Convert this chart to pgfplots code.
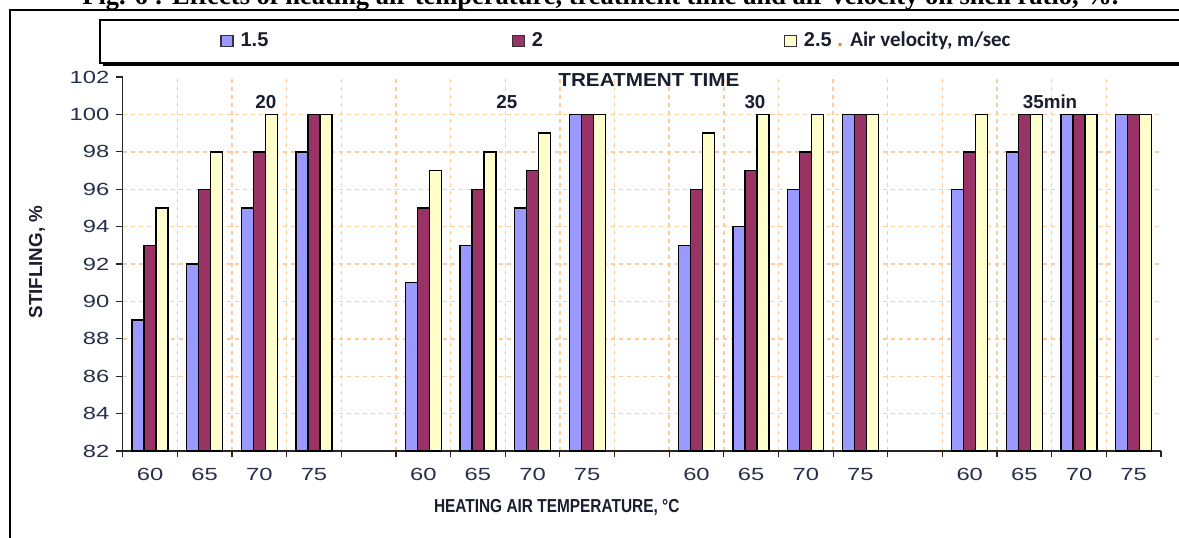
\documentclass[border=0pt]{standalone}
\usepackage{pgfplots}
\pgfplotsset{compat=1.18}
\usepackage{pgfplotstable}
\usepackage{graphicx}
\usepackage{fontspec}
\setmainfont{Liberation Sans}
\newfontfamily\titlefont{Liberation Serif}
\newfontfamily\calibri{Carlito}
\definecolor{cblue}{HTML}{9999FF}
\definecolor{cmaroon}{HTML}{993366}
\definecolor{cyellow}{HTML}{FFFFCC}
\definecolor{gridc}{HTML}{FFCC99}
\definecolor{tickc}{HTML}{26304A}
\definecolor{txtc}{HTML}{1A1F30}
\newcommand{\sx}[1]{\scalebox{1.35}[1]{#1}}

\pgfplotstableread{
x y
0 89
1 92
2 95
3 98
5 91
6 93
7 95
8 100
10 93
11 94
12 96
13 100
15 96
16 98
17 100
18 100
}\tblA
\pgfplotstableread{
x y
0 93
1 96
2 98
3 100
5 95
6 96
7 97
8 100
10 96
11 97
12 98
13 100
15 98
16 100
17 100
18 100
}\tblB
\pgfplotstableread{
x y
0 95
1 98
2 100
3 100
5 97
6 98
7 99
8 100
10 99
11 100
12 100
13 100
15 100
16 100
17 100
18 100
}\tblC

\begin{document}
\begin{tikzpicture}[x=0.5pt,y=0.5pt]
\useasboundingbox (0,0) rectangle (1179,537);
\clip (0,0) rectangle (1179,537);
\fill[white] (0,0) rectangle (1179,537);
% outer frame
\draw[line width=0.75pt] (10,-5) -- (10,527) -- (1190,527);
% title (cut at top)
\node[anchor=base west, inner sep=0pt] at (82,532) {\resizebox{518pt}{!}{\titlefont\bfseries Fig. 6 : Effects of heating air temperature, treatment time and air velocity on shell ratio, \%.}};
% legend box with shadow
\fill[black] (103,537-66) rectangle (1195,537-23);
\draw[fill=white, line width=1.2pt] (100,537-20) rectangle (1195,537-63);
\begin{axis}[
  at={(61.35pt,43pt)}, anchor=south west,
  scale only axis, width=519.15pt, height=187pt,
  xmin=-0.5, xmax=18.5, ymin=82, ymax=102,
  clip mode=individual,
  ybar=0pt, bar width=6pt,
  axis x line*=bottom, axis y line*=left,
  axis line style={-, line width=0.8pt, black!85},
  tick align=outside, major tick length=3.2pt, minor tick length=3.2pt,
  tick style={black!85, line width=0.6pt},
  xtick={0.5,1.5,...,17.5}, xticklabels={},
  minor xtick={-0.5,18.5},
  xmajorgrids=true,
  major grid style={gridc, line width=0.7pt, dash pattern=on 2pt off 2pt},
  extra x ticks={0,1,2,3,5,6,7,8,10,11,12,13,15,16,17,18},
  extra x tick labels={\sx{60},\sx{65},\sx{70},\sx{75},\sx{60},\sx{65},\sx{70},\sx{75},\sx{60},\sx{65},\sx{70},\sx{75},\sx{60},\sx{65},\sx{70},\sx{75}},
  extra x tick style={grid=none, major tick length=0pt},
  xticklabel style={font=\fontsize{8.8}{10}\selectfont, text=tickc, yshift=-5pt},
  ytick={82,84,...,102},
  yticklabels={\sx{82},\sx{84},\sx{86},\sx{88},\sx{90},\sx{92},\sx{94},\sx{96},\sx{98},\sx{100},\sx{102}},
  yticklabel style={font=\fontsize{8.8}{10}\selectfont, text=tickc},
  extra y ticks={84,86,...,100},
  extra y tick labels={},
  extra y tick style={grid=major, major tick length=0pt},
  xlabel={\scalebox{0.82}[1]{HEATING AIR TEMPERATURE, °C}},
  xlabel style={font=\bfseries\fontsize{9.4}{11}\selectfont, text=txtc, at={(axis description cs:0.418,-0.152)}, anchor=center},
  ylabel={STIFLING, \%},
  ylabel style={font=\bfseries\fontsize{9.4}{11}\selectfont, text=txtc, at={(axis description cs:-0.0825,0.505)}, anchor=center, rotate=0},
  legend style={at={(axis description cs:0.0937,1.096)}, anchor=west, draw=none, fill=none,
    legend columns=3, inner sep=0pt, cells={inner sep=0pt, anchor=west},
    font=\bfseries\fontsize{10}{11}\selectfont, text=txtc,
    /tikz/every odd column/.append style={column sep=1.5pt},
    /tikz/every even column/.append style={column sep=0pt}},
  legend cell align=left,
]
\addplot[fill=cblue, draw=black, line width=0.7pt, legend image code/.code={\draw[fill=cblue, draw=black!80, line width=0.6pt] (0pt,-2.7pt) rectangle (6pt,2.7pt);}] table[x=x,y=y] {\tblA};
\addplot[fill=cmaroon, draw=black, line width=0.7pt, legend image code/.code={\draw[fill=cmaroon, draw=black!80, line width=0.6pt] (0pt,-2.7pt) rectangle (6pt,2.7pt);}] table[x=x,y=y] {\tblB};
\addplot[fill=cyellow, draw=black, line width=0.7pt, legend image code/.code={\draw[fill=cyellow, draw=black!80, line width=0.6pt] (0pt,-2.7pt) rectangle (6pt,2.7pt);}] table[x=x,y=y] {\tblC};
\legend{\makebox[133.5pt][l]{1.5},\makebox[124pt][l]{2},{2.5 {\color{orange}.} {\calibri\fontsize{10.5}{11}\selectfont Air velocity, m/sec}}}
\node[font=\bfseries\fontsize{9.4}{11}\selectfont, text=txtc] at (axis cs:9.13,101.84) {\scalebox{1.1}[1]{TREATMENT TIME}};
\node[font=\bfseries\fontsize{9.4}{11}\selectfont, text=txtc] at (axis cs:2.12,100.65) {20};
\node[font=\bfseries\fontsize{9.4}{11}\selectfont, text=txtc] at (axis cs:6.53,100.65) {25};
\node[font=\bfseries\fontsize{9.4}{11}\selectfont, text=txtc] at (axis cs:11.07,100.65) {30};
\node[font=\bfseries\fontsize{9.4}{11}\selectfont, text=txtc] at (axis cs:16.47,100.65) {35min};
\end{axis}
\end{tikzpicture}
\end{document}
